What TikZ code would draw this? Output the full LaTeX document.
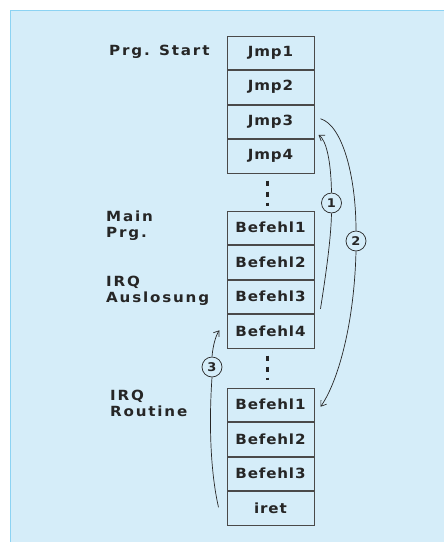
\documentclass[tikz,border=0pt]{standalone}
\usepackage{fontspec}
\setmainfont{DejaVu Sans}[FakeStretch=1.08,LetterSpace=6,UprightFont=* Bold]
\newfontfamily\lblfont{DejaVu Sans Bold}[FakeStretch=1.08,LetterSpace=13]
\usetikzlibrary{calc,arrows.meta,positioning}
\definecolor{bgblue}{HTML}{D5EDF9}
\definecolor{edgeblue}{HTML}{8CD3F3}
\definecolor{ink}{HTML}{262626}
\definecolor{boxline}{HTML}{4A4A4A}
\tikzset{
  cell/.style={draw=boxline,line width=1pt,minimum width=87pt,minimum height=33.5pt,
    inner sep=0pt,text=ink,font=\fontsize{14}{16}\selectfont},
  lbl/.style={anchor=north west,inner sep=0pt,align=left,text=ink,font=\lblfont\fontsize{14}{16}\selectfont},
  num/.style={circle,draw=ink,line width=0.7pt,minimum size=20pt,inner sep=0pt,text=ink,
    font=\fontsize{12}{12}\selectfont},
  flow/.style={draw=ink,line width=0.7pt},
  flowarrow/.style={flow,-{Straight Barb[length=5pt,width=7pt]}},
  vdots/.style={draw=ink,line width=3pt,dash pattern=on 5pt off 6pt}
}
\begin{document}
\begin{tikzpicture}[x=1pt,y=-1pt]
\useasboundingbox (0,0) rectangle (444,542);
\begin{scope}
\clip (0,0) rectangle (444,542);
\fill[white] (0,0) rectangle (444,542);
\draw[fill=bgblue,draw=edgeblue,line width=1.5pt] (10.5,10.5) rectangle (450,550);
\end{scope}
% top stack
\node[cell] (j1) at (270.5,52.75) {Jmp1};
\node[cell,anchor=north] (j2) at (j1.south) {Jmp2};
\node[cell,anchor=north] (j3) at (j2.south) {Jmp3};
\node[cell,anchor=north] (j4) at (j3.south) {Jmp4};
% middle stack
\node[cell] (m1) at (270.5,227.75) {Befehl1};
\node[cell,anchor=north] (m2) at (m1.south) {Befehl2};
\node[cell,anchor=north] (m3) at (m2.south) {Befehl3};
\node[cell,anchor=north] (m4) at (m3.south) {Befehl4};
% bottom stack
\node[cell] (r1) at (270.5,404.75) {Befehl1};
\node[cell,anchor=north] (r2) at (r1.south) {Befehl2};
\node[cell,anchor=north] (r3) at (r2.south) {Befehl3};
\node[cell,anchor=north] (r4) at (r3.south) {iret};
% labels
\node[lbl] (lstart) at (109,45) {Prg. Start};
\node[lbl] (lmain) at (106,210.5) {Main\\Prg.};
\node[lbl] (lirq) at (106,275.5) {IRQ\\Auslosung};
\node[lbl] (lrout) at (110,390) {IRQ\\Routine};
% dots
\draw[vdots] ($(j4.south)+(-3.5,7)$) -- ($(m1.north)+(-3.5,-5)$);
\draw[vdots] ($(m4.south)+(-3.5,7)$) -- ($(r1.north)+(-3.5,-8)$);
% numbered circles
\node[num] (c1) at (331.5,203) {1};
\node[num] (c2) at (356,241) {2};
\node[num] (c3) at (212,367) {3};
% arrow 1
\draw[flow] ($(m3.east)+(6,12)$) .. controls (325,280) and (331,240) .. (c1.south);
\draw[flowarrow] (c1.north) .. controls (331,160) and (326,140) .. ($(j3.south east)+(4,-4)$);
% arrow 2
\draw[flow] ($(j3.east)+(6,-3)$) .. controls (342,125) and (356,175) .. (c2.north);
\draw[flowarrow] (c2.south) .. controls (354,330) and (336,385) .. ($(r1.east)+(6,2)$);
% arrow 3
\draw[flow] ($(r4.west)+(-8,-1)$) .. controls (210,470) and (209,420) .. (c3.south);
\draw[flowarrow] (c3.north) .. controls (213,345) and (216,335) .. ($(m4.west)+(-7,-1)$);
\end{tikzpicture}
\end{document}
